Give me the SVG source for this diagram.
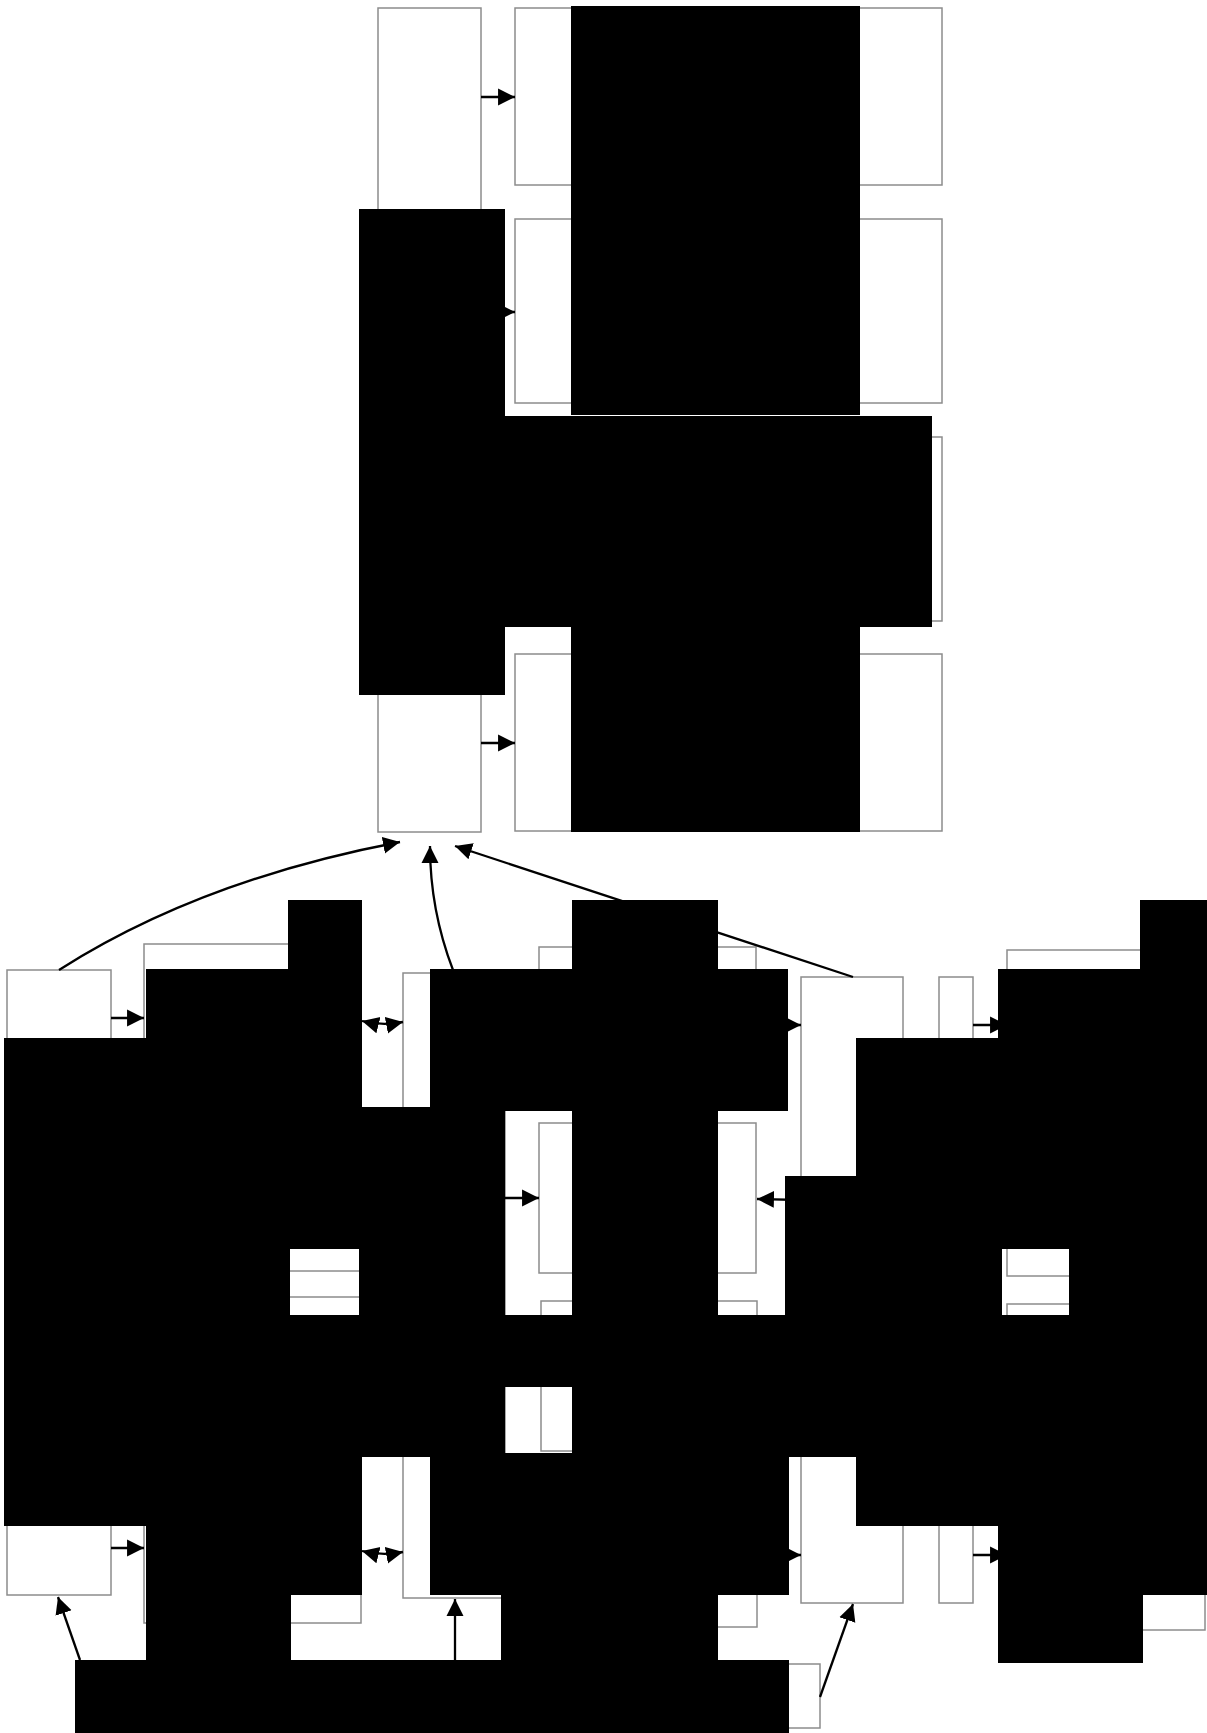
<svg xmlns="http://www.w3.org/2000/svg" width="1207" height="1733" viewBox="0 0 1207 1733">
<style>
.box{fill:#fff;stroke:#8c8c8c;stroke-width:1.5}
.lbl{fill:#000}
.edge{fill:none;stroke:#000;stroke-width:2.3}
</style>
<defs>
<marker id="ah" markerUnits="userSpaceOnUse" markerWidth="18" markerHeight="18" refX="16" refY="8" orient="auto-start-reverse" viewBox="0 0 17 16">
<path d="M0,0 L16,8 L0,16 z" fill="#000"/>
</marker>
</defs>
<rect width="1207" height="1733" fill="#fff"/>
<g id="nodes">
<g id="nA"><rect class="box" x="378" y="8" width="103" height="824"/></g>
<g id="nB1"><rect class="box" x="515" y="8" width="427" height="177"/></g>
<g id="nB2"><rect class="box" x="515" y="219" width="427" height="184"/></g>
<g id="nB3"><rect class="box" x="515" y="437" width="427" height="184"/></g>
<g id="nB4"><rect class="box" x="515" y="654" width="427" height="177"/></g>
<g id="nC1"><rect class="box" x="7" y="970" width="104" height="625"/></g>
<g id="nC2a"><rect class="box" x="144" y="944" width="217" height="327"/></g>
<g id="nC2b"><rect class="box" x="144" y="1297" width="217" height="326"/></g>
<g id="nD1"><rect class="box" x="403" y="973" width="102" height="625"/></g>
<g id="nD2a"><rect class="box" x="539" y="947" width="217" height="149"/></g>
<g id="nD2b"><rect class="box" x="539" y="1123" width="217" height="150"/></g>
<g id="nD2c"><rect class="box" x="541" y="1301" width="216" height="150"/></g>
<g id="nD2d"><rect class="box" x="540" y="1477" width="217" height="150"/></g>
<g id="nE1"><rect class="box" x="801" y="977" width="102" height="626"/></g>
<g id="nE2"><rect class="box" x="939" y="977" width="34" height="626"/></g>
<g id="nE3a"><rect class="box" x="1007" y="950" width="198" height="326"/></g>
<g id="nE3b"><rect class="box" x="1007" y="1304" width="198" height="326"/></g>
<g id="nF"><rect class="box" x="78" y="1664" width="742" height="64"/></g>
</g>
<g id="connectors">
<path class="edge" d="M481,97 L515,97" marker-end="url(#ah)"/>
<path class="edge" d="M481,312 L515,312" marker-end="url(#ah)"/>
<path class="edge" d="M481,743 L515,743" marker-end="url(#ah)"/>
<path class="edge" d="M111,1018 L144,1018" marker-end="url(#ah)"/>
<path class="edge" d="M111,1548 L144,1548" marker-end="url(#ah)"/>
<path class="edge" d="M362,1021 Q382,1026 403,1022" marker-start="url(#ah)" marker-end="url(#ah)"/>
<path class="edge" d="M362,1551 Q382,1556 403,1552" marker-start="url(#ah)" marker-end="url(#ah)"/>
<path class="edge" d="M505,1198 L539,1198" marker-end="url(#ah)"/>
<path class="edge" d="M801,1200 L757,1199" marker-end="url(#ah)"/>
<path class="edge" d="M756,1025 L801,1025" marker-end="url(#ah)"/>
<path class="edge" d="M757,1555 L801,1555" marker-end="url(#ah)"/>
<path class="edge" d="M973,1025 L1007,1025" marker-end="url(#ah)"/>
<path class="edge" d="M973,1555 L1007,1555" marker-end="url(#ah)"/>
<path class="edge" d="M59,970 Q200,880 400,842" marker-end="url(#ah)"/>
<path class="edge" d="M453,970 Q430,910 430,846" marker-end="url(#ah)"/>
<path class="edge" d="M853,977 L455,846" marker-end="url(#ah)"/>
<path class="edge" d="M80,1660 L58,1597" marker-end="url(#ah)"/>
<path class="edge" d="M455,1660 L455,1599" marker-end="url(#ah)"/>
<path class="edge" d="M820,1697 L853,1604" marker-end="url(#ah)"/>
</g>
<g id="labels">
<rect class="lbl" x="571" y="6" width="289" height="409"/>
<rect class="lbl" x="359" y="209" width="146" height="486"/>
<rect class="lbl" x="505" y="416" width="427" height="211"/>
<rect class="lbl" x="571" y="627" width="289" height="205"/>
<rect class="lbl" x="288" y="900" width="74" height="207"/>
<rect class="lbl" x="146" y="969" width="216" height="280"/>
<rect class="lbl" x="4" y="1038" width="286" height="488"/>
<rect class="lbl" x="146" y="1315" width="216" height="280"/>
<rect class="lbl" x="146" y="1595" width="145" height="65"/>
<rect class="lbl" x="75" y="1660" width="714" height="73"/>
<rect class="lbl" x="430" y="969" width="358" height="142"/>
<rect class="lbl" x="572" y="900" width="146" height="760"/>
<rect class="lbl" x="359" y="1107" width="146" height="350"/>
<rect class="lbl" x="505" y="1315" width="280" height="72"/>
<rect class="lbl" x="718" y="1387" width="67" height="70"/>
<rect class="lbl" x="430" y="1453" width="359" height="142"/>
<rect class="lbl" x="501" y="1595" width="217" height="65"/>
<rect class="lbl" x="785" y="1176" width="71" height="281"/>
<rect class="lbl" x="856" y="1038" width="146" height="488"/>
<rect class="lbl" x="998" y="969" width="142" height="280"/>
<rect class="lbl" x="1140" y="900" width="67" height="415"/>
<rect class="lbl" x="1069" y="1249" width="138" height="66"/>
<rect class="lbl" x="998" y="1315" width="209" height="280"/>
<rect class="lbl" x="998" y="1595" width="145" height="68"/>
</g>
</svg>
